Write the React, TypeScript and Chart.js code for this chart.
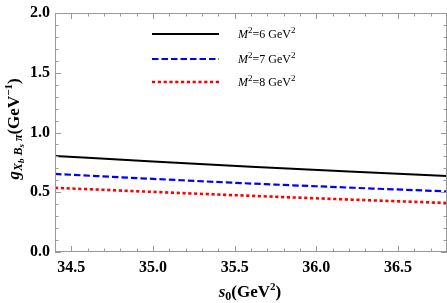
import React, { useEffect, useRef } from "react";
import { Chart, registerables } from "chart.js";

Chart.register(...registerables);

const s0Values = [34.4, 35.0, 35.6, 36.2, 36.8];
const gM6 = [0.804, 0.757, 0.713, 0.673, 0.636];
const gM7 = [0.653, 0.612, 0.573, 0.539, 0.507];
const gM8 = [0.537, 0.503, 0.470, 0.439, 0.410];
const legendLabels = ["6", "7", "8"];
const xMajorTicks = [34.5, 35.0, 35.5, 36.0, 36.5];
const yMajorTicks = [0, 0.5, 1.0, 1.5, 2.0];

type Seg = { t: string; f: string; dy: number };

function drawRich(ctx: CanvasRenderingContext2D, segs: Seg[], x: number, y: number, align: "center" | "left") {
  let total = 0;
  for (const s of segs) {
    ctx.font = s.f;
    total += ctx.measureText(s.t).width;
  }
  let cx = align === "center" ? x - total / 2 : x;
  ctx.textBaseline = "middle";
  ctx.textAlign = "left";
  for (const s of segs) {
    ctx.font = s.f;
    ctx.fillText(s.t, cx, y + s.dy);
    cx += ctx.measureText(s.t).width;
  }
}

const SERIF = '"Liberation Serif", "DejaVu Serif", serif';

const decorPlugin = {
  id: "decor",
  afterDraw(chart: any) {
    const ctx: CanvasRenderingContext2D = chart.ctx;
    const { left, right, top, bottom } = chart.chartArea;
    const xs = chart.scales.x;
    const ys = chart.scales.y;
    ctx.save();
    // frame
    ctx.strokeStyle = "#999999";
    ctx.lineWidth = 1;
    ctx.strokeRect(left + 0.5, top + 0.5, right - left - 1, bottom - top - 1);
    // ticks
    ctx.beginPath();
    for (let i = 344; i <= 368; i++) {
      const v = i / 10;
      const px = Math.round(xs.getPixelForValue(v)) + 0.5;
      const major = i % 5 === 0;
      const len = major ? 6 : 3.5;
      ctx.moveTo(px, bottom);
      ctx.lineTo(px, bottom - len);
      ctx.moveTo(px, top);
      ctx.lineTo(px, top + len);
    }
    for (let i = 0; i <= 20; i++) {
      const v = i / 10;
      const py = Math.round(ys.getPixelForValue(v)) + 0.5;
      const major = i % 5 === 0;
      const len = major ? 6 : 3.5;
      ctx.moveTo(left, py);
      ctx.lineTo(left + len, py);
      ctx.moveTo(right, py);
      ctx.lineTo(right - len, py);
    }
    ctx.stroke();

    ctx.fillStyle = "#000";
    // legend
    const styles = [
      { c: "#000000", d: [] as number[], w: 2 },
      { c: "#0000ff", d: [6.5, 3], w: 2.2 },
      { c: "#ff0000", d: [3.2, 2.6], w: 2.6 },
    ];
    const ly = [34, 59, 82];
    styles.forEach((st, i) => {
      ctx.beginPath();
      ctx.strokeStyle = st.c;
      ctx.lineWidth = st.w;
      ctx.setLineDash(st.d);
      ctx.moveTo(152, ly[i]);
      ctx.lineTo(219, ly[i]);
      ctx.stroke();
      ctx.setLineDash([]);
      drawRich(
        ctx,
        [
          { t: "M", f: `italic 12px ${SERIF}`, dy: 0 },
          { t: "2", f: `9px ${SERIF}`, dy: -4 },
          { t: "=" + legendLabels[i] + " GeV", f: `12px ${SERIF}`, dy: 0 },
          { t: "2", f: `9px ${SERIF}`, dy: -4 },
        ],
        238,
        ly[i] + 1,
        "left"
      );
    });

    // x title
    drawRich(
      ctx,
      [
        { t: "s", f: `bold italic 17px ${SERIF}`, dy: 0 },
        { t: "0", f: `bold 12px ${SERIF}`, dy: 4 },
        { t: "(GeV", f: `bold 17px ${SERIF}`, dy: 0 },
        { t: "2", f: `bold 11px ${SERIF}`, dy: -6 },
        { t: ")", f: `bold 17px ${SERIF}`, dy: 0 },
      ],
      250,
      293,
      "center"
    );

    // y title
    ctx.translate(15, 129);
    ctx.rotate(-Math.PI / 2);
    drawRich(
      ctx,
      [
        { t: "g", f: `bold italic 17px ${SERIF}`, dy: 0 },
        { t: "X", f: `bold italic 12px ${SERIF}`, dy: 4 },
        { t: "b", f: `bold italic 9px ${SERIF}`, dy: 7 },
        { t: " B", f: `bold italic 12px ${SERIF}`, dy: 4 },
        { t: "s", f: `bold italic 9px ${SERIF}`, dy: 7 },
        { t: " π", f: `bold italic 12px ${SERIF}`, dy: 4 },
        { t: "(GeV", f: `bold 17px ${SERIF}`, dy: 0 },
        { t: "−1", f: `bold 11px ${SERIF}`, dy: -6 },
        { t: ")", f: `bold 17px ${SERIF}`, dy: 0 },
      ],
      0,
      0,
      "center"
    );
    ctx.restore();
  },
};

export default function App() {
  const ref = useRef<HTMLCanvasElement>(null);
  useEffect(() => {
    document.body.style.margin = "0";
    const mk = (vals: number[]) => s0Values.map((x, i) => ({ x, y: vals[i] }));
    const chart = new Chart(ref.current!, {
      type: "line",
      data: {
        datasets: [
          { data: mk(gM6), borderColor: "#000000", borderWidth: 2, pointRadius: 0, cubicInterpolationMode: "monotone" },
          { data: mk(gM7), borderColor: "#0000ff", borderWidth: 2.2, borderDash: [6.5, 3], pointRadius: 0, cubicInterpolationMode: "monotone" },
          { data: mk(gM8), borderColor: "#ff0000", borderWidth: 2.6, borderDash: [3.2, 2.6], pointRadius: 0, cubicInterpolationMode: "monotone" },
        ] as any,
      },
      options: {
        animation: false,
        responsive: false,
        layout: { padding: { top: 0, right: 0, left: 0, bottom: 0 } },
        plugins: { legend: { display: false }, tooltip: { enabled: false } },
        scales: {
          x: {
            type: "linear",
            min: 34.4,
            max: 36.8,
            afterBuildTicks: (s: any) => {
              s.ticks = xMajorTicks.map((v) => ({ value: v }));
            },
            afterFit: (s: any) => {
              s.height = 51;
            },
            grid: { display: false, drawTicks: false },
            border: { display: false },
            ticks: {
              color: "#000",
              padding: 8,
              font: { family: SERIF, size: 16, weight: "bold", lineHeight: 1 },
              callback: (v: any) => Number(v).toFixed(1),
              maxRotation: 0,
              autoSkip: false,
            },
          },
          y: {
            type: "linear",
            min: 0,
            max: 2,
            afterBuildTicks: (s: any) => {
              s.ticks = yMajorTicks.map((v) => ({ value: v }));
            },
            afterFit: (s: any) => {
              s.width = 55;
            },
            grid: { display: false, drawTicks: false },
            border: { display: false },
            ticks: {
              color: "#000",
              padding: 5,
              font: { family: SERIF, size: 16, weight: "bold", lineHeight: 1 },
              callback: (v: any) => Number(v).toFixed(1),
              autoSkip: false,
            },
          },
        },
      },
      plugins: [decorPlugin],
    });
    return () => chart.destroy();
  }, []);
  return <canvas ref={ref} width={447} height={303} style={{ display: "block" }} />;
}
